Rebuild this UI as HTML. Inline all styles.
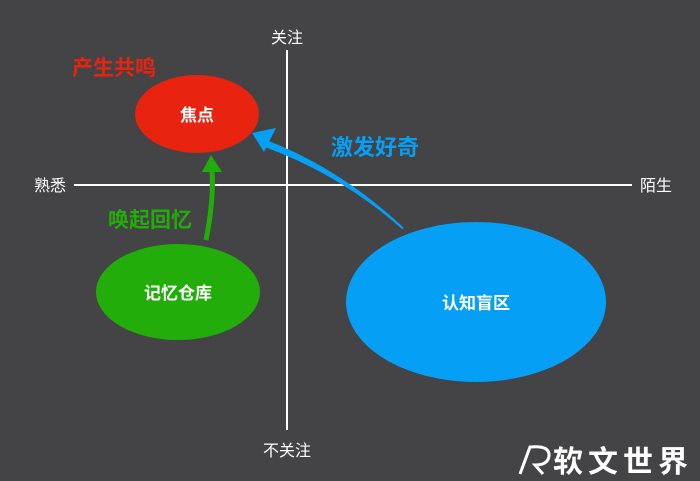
<!DOCTYPE html>
<html><head><meta charset="utf-8"><style>
body{margin:0;background:#444345;}
svg{display:block}
text{font-family:"Liberation Sans","Noto Sans CJK SC",sans-serif;}
</style></head><body>
<svg width="700" height="481" viewBox="0 0 700 481">
<rect width="700" height="481" fill="#444345"/>
<line x1="287" y1="50" x2="287" y2="430" stroke="#fff" stroke-width="2"/>
<line x1="74" y1="185" x2="632" y2="185" stroke="#fff" stroke-width="2"/>
<text x="287" y="43" fill="#fff" font-size="16" text-anchor="middle">关注</text>
<text x="287" y="456" fill="#fff" font-size="16" text-anchor="middle">不关注</text>
<text x="50" y="191" fill="#fff" font-size="16" text-anchor="middle">熟悉</text>
<text x="656" y="191" fill="#fff" font-size="16" text-anchor="middle">陌生</text>
<ellipse cx="197" cy="114" rx="62" ry="39" fill="#e8230f"/>
<text x="197" y="121" fill="#fff" font-size="17" font-weight="bold" text-anchor="middle">焦点</text>
<text x="114" y="75" fill="#e8230f" font-size="21" font-weight="bold" text-anchor="middle">产生共鸣</text>
<ellipse cx="178" cy="292" rx="82" ry="48" fill="#22ad0a"/>
<text x="178" y="299" fill="#fff" font-size="17" font-weight="bold" text-anchor="middle">记忆仓库</text>
<ellipse cx="476" cy="302" rx="130" ry="80" fill="#05a0f5"/>
<text x="476" y="309" fill="#fff" font-size="17" font-weight="bold" text-anchor="middle">认知盲区</text>
<text x="150" y="227" fill="#22ad0a" font-size="21" font-weight="bold" text-anchor="middle">唤起回忆</text>
<text x="375" y="155" fill="#05a0f5" font-size="22" font-weight="bold" text-anchor="middle">激发好奇</text>
<path d="M206 240 Q214 200 212 170" stroke="#22ad0a" stroke-width="5" fill="none"/>
<polygon points="202,172 211,155 222,172" fill="#22ad0a"/>
<path d="M404 228 Q340 168 266 140 L262 146 Q340 174 402 229 Z" fill="#05a0f5"/>
<polygon points="252,133 276,128 264,152" fill="#05a0f5"/>
<text x="553" y="472" fill="#fff" font-size="30" font-weight="bold" letter-spacing="5">软文世界</text>
<path d="M520 474 L530 447 Q550 445 549 456 Q548 465 535 465 L543 474" stroke="#fff" stroke-width="3" fill="none"/>
</svg>
</body></html>
